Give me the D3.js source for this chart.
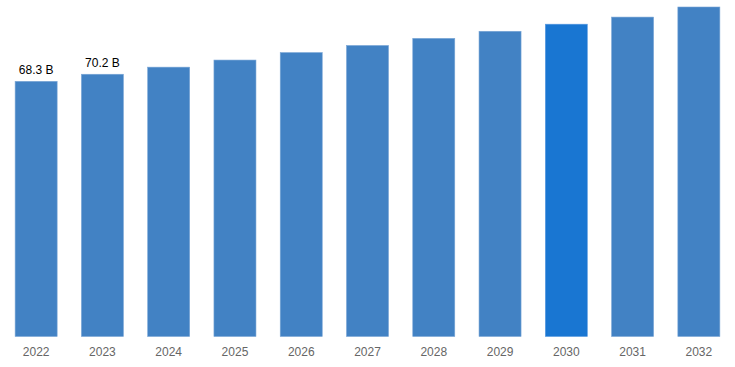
<!DOCTYPE html>
<html>
<head>
<meta charset="utf-8">
<script src="https://cdn.jsdelivr.net/npm/d3@7"></script>
<style>
  body { margin: 0; background: #fff; }
  svg { display: block; font-family: "Liberation Sans", Arial, sans-serif; }
</style>
</head>
<body>
<div id="chart"></div>
<script>
const years = ["2022", "2023", "2024", "2025", "2026", "2027", "2028", "2029", "2030", "2031", "2032"];
const values = [68.3, 70.2, 72.1, 74.0, 76.0, 77.9, 79.8, 81.7, 83.6, 85.5, 88.2];
const labels = ["68.3 B", "70.2 B", "", "", "", "", "", "", "", "", ""];
const highlightYear = "2030";

const width = 735;
const height = 367;

const data = years.map((y, i) => ({ year: y, value: values[i], label: labels[i] }));

const svg = d3
  .select("#chart")
  .append("svg")
  .attr("width", width)
  .attr("height", height);

const xScale = d3.scaleBand().domain(years).range([3, 732]).paddingInner(0.366).paddingOuter(0.183);
const yScale = d3.scaleLinear().domain([0, 88.2]).range([336.5, 7]);

// bars
svg
  .selectAll("rect.bar")
  .data(data)
  .enter()
  .append("rect")
  .attr("class", "bar")
  .attr("x", (d) => xScale(d.year))
  .attr("y", (d) => yScale(d.value))
  .attr("width", xScale.bandwidth())
  .attr("height", (d) => yScale(0) - yScale(d.value))
  .attr("fill", (d) => (d.year === highlightYear ? "#1976d2" : "#4282c4"))
  .attr("stroke", (d) => (d.year === highlightYear ? "#5b9be0" : "#7aa6d6"))
  .attr("stroke-width", 0.6);

// value labels
svg
  .selectAll("text.val")
  .data(data.filter((d) => d.label))
  .enter()
  .append("text")
  .attr("class", "val")
  .attr("x", (d) => xScale(d.year) + xScale.bandwidth() / 2)
  .attr("y", (d) => yScale(d.value) - 7)
  .attr("text-anchor", "middle")
  .attr("font-size", 12)
  .attr("fill", "#000")
  .text((d) => d.label);

// x axis
const xAxis = d3.axisBottom(xScale).tickSize(0).tickPadding(11);
const gx = svg
  .append("g")
  .attr("transform", "translate(0," + 336.5 + ")")
  .call(xAxis);
gx.select(".domain").remove();
gx.selectAll("text").attr("font-size", 12).attr("fill", "#666").attr("font-family", "Liberation Sans, Arial, sans-serif");
</script>
</body>
</html>
